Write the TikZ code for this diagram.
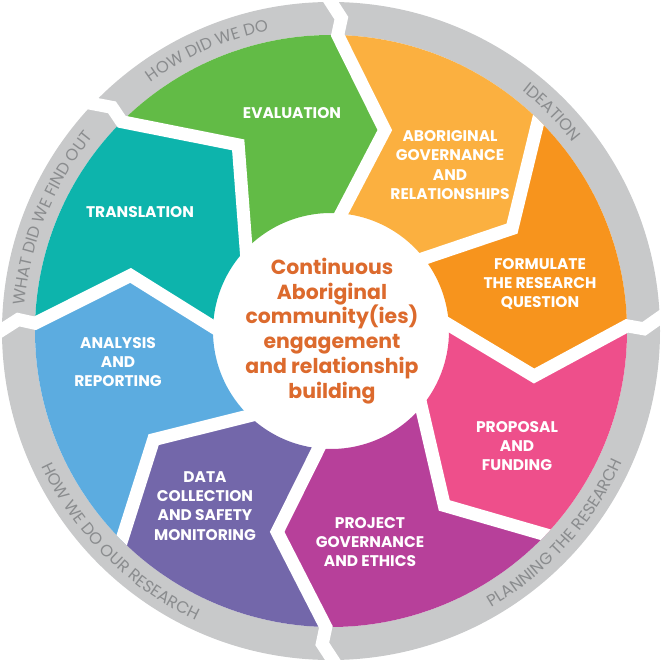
\documentclass[tikz,border=0pt]{standalone}
\usepackage{fontspec}
\usepackage{xcolor}
\usepackage{tikz}
\usetikzlibrary{calc, decorations.text}
\newfontfamily\gothic{Poppins}
\newcommand{\ringfont}{\gothic\fontsize{16.5}{16.5}\selectfont}
\definecolor{C_EVAL}{HTML}{62BB46}
\definecolor{C_ABGOV}{HTML}{FBB040}
\definecolor{C_FORM}{HTML}{F7941D}
\definecolor{C_PROP}{HTML}{EE4F8B}
\definecolor{C_PGOV}{HTML}{B7409A}
\definecolor{C_DATA}{HTML}{7367AA}
\definecolor{C_ANAL}{HTML}{5CACE0}
\definecolor{C_TRANS}{HTML}{0DB4AC}
\definecolor{C_RING}{HTML}{C8C9CA}
\definecolor{C_RINGTXT}{HTML}{8A8C8E}
\definecolor{C_CORE}{HTML}{DC6A2D}

\begin{document}
\begin{tikzpicture}[
  x=1bp, y=1bp,
  seglabel/.style={text=white, align=center, inner sep=0pt,
                   font=\gothic\bfseries\fontsize{15.5}{19.3}\selectfont},
  corelabel/.style={text=C_CORE, align=center, inner sep=0pt,
                    font=\gothic\bfseries\fontsize{20.5}{25}\selectfont},
  gap/.style={draw=white, line width=13bp, line join=miter},
  ringtext/.style={decorate, decoration={text along path, text align=center,
                   text color=C_RINGTXT, text={|\ringfont|#1}}},
]
\useasboundingbox (-331,-330) rectangle (331,331);

%% Outer grey ring
\fill[C_RING, even odd rule] (0,0) circle[radius=329] circle[radius=296];

%% Coloured segments (outer / tip / inner angle of both sides)
\foreach \col/\ao/\at/\ai/\bo/\bt/\bi in {
    C_EVAL/135/116.5/136/88.7/75/85,
    C_ABGOV/88.7/75/85/45.5/29.5/38,
    C_FORM/45.5/29.5/38/1/-12.5/3,
    C_PROP/1/-12.5/3/-43.5/-57/-40,
    C_PGOV/-43.5/-57/-40/-91/-105/-96,
    C_DATA/-91/-105/-96/-135/-148.5/-134,
    C_ANAL/-135/-148.5/-134/-181.5/-195.5/-182,
    C_TRANS/-181.5/-195.5/-182/-225/-243.5/-224}
  \fill[fill=\col] (\ao:296) arc[start angle=\ao, end angle=\bo, radius=296]
    -- (\bt:208) -- (\bi:118) arc[start angle=\bi, end angle=\ai, radius=118]
    -- (\at:208) -- cycle;

%% Separators that also cut the ring
\foreach \o/\t/\i in {135/116.5/136, 88.7/75/85, 1/-12.5/3, -91/-105/-96, -181.5/-195.5/-182}
  \draw[gap] ($(\t:208)!1.3!(\i:118)$) -- (\t:208) -- (\o:296)
    -- ({\o-0.6}:313) -- ({\o+2.5}:340);

%% Separators inside the ring only
\begin{scope}
  \clip (0,0) circle[radius=296];
  \foreach \o/\t/\i in {45.5/29.5/38, -43.5/-57/-40, -135/-148.5/-134}
    \draw[gap] ($(\t:208)!1.3!(\i:118)$) -- (\t:208) -- ($(\t:208)!1.2!(\o:296)$);
\end{scope}

%% Ring labels
\path[ringtext={HOW DID WE DO}] (139:307) arc[start angle=139, end angle=88.6, radius=307];
\path[ringtext={IDEATION}] (70:307) arc[start angle=70, end angle=19.4, radius=307];
\path[ringtext={WHAT DID WE FIND OUT}] (182:307) arc[start angle=182, end angle=134, radius=307];
\path[ringtext={PLANNING THE RESEARCH}] (-70:319.5) arc[start angle=-70, end angle=-14, radius=319.5];
\path[ringtext={HOW WE DO OUR RESEARCH}] (-163:319.5) arc[start angle=-163, end angle=-107, radius=319.5];

%% Segment labels
\node[seglabel] (eval)  at (-39,218)  {EVALUATION};
\node[seglabel] (abgov) at (119,166)  {ABORIGINAL\\GOVERNANCE\\AND\\RELATIONSHIPS};
\node[seglabel] (form)  at (209,47)   {FORMULATE\\THE RESEARCH\\QUESTION};
\node[seglabel] (prop)  at (186,-115) {PROPOSAL\\AND\\FUNDING};
\node[seglabel] (pgov)  at (39,-211)  {PROJECT\\GOVERNANCE\\AND ETHICS};
\node[seglabel] (data)  at (-126,-175) {DATA\\COLLECTION\\AND SAFETY\\MONITORING};
\node[seglabel] (anal)  at (-213,-31) {ANALYSIS\\AND\\REPORTING};
\node[seglabel] (trans) at (-191,119) {TRANSLATION};

%% Centre
\node[corelabel] (core) at (1,0)
  {Continuous\\Aboriginal\\community(ies)\\engagement\\and relationship\\building};

\end{tikzpicture}
\end{document}
